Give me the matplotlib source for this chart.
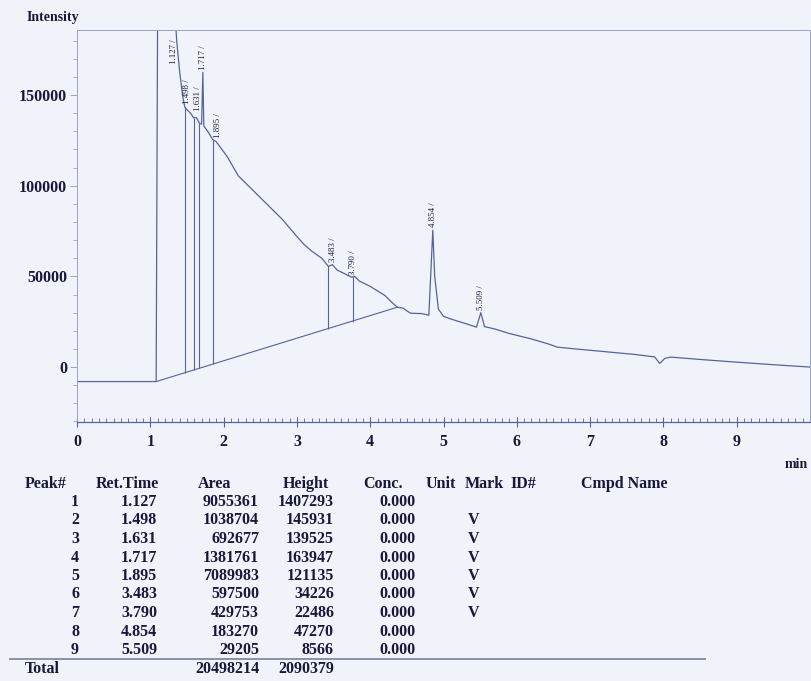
import matplotlib.pyplot as plt
from matplotlib.ticker import MultipleLocator

W, H = 811, 681

# chromatogram trace (min, intensity)
trace_t = [0.00, 1.08, 1.10, 1.33, 1.36, 1.40, 1.44, 1.47, 1.498, 1.55, 1.59,
           1.631, 1.67, 1.70, 1.717, 1.73, 1.80, 1.85, 1.895, 1.95, 2.05, 2.15,
           2.20, 2.40, 2.60, 2.80, 3.00, 3.10, 3.20, 3.34, 3.43, 3.483, 3.55,
           3.65, 3.75, 3.79, 3.85, 4.00, 4.20, 4.30, 4.37, 4.45, 4.50, 4.55,
           4.70, 4.80, 4.854, 4.88, 4.93, 5.00, 5.10, 5.30, 5.45, 5.509, 5.56,
           5.70, 5.90, 6.20, 6.45, 6.55, 6.80, 7.20, 7.60, 7.88, 7.95, 8.02,
           8.10, 8.50, 9.00, 9.50, 10.00]
trace_y = [-8000, -8000, 200000, 200000, 180000, 163000, 150000, 143500,
           142000, 140000, 137500, 137500, 134500, 134000, 162500, 133000,
           129000, 125500, 124500, 121500, 116000, 109000, 105500, 97500,
           89500, 81500, 72000, 67500, 64000, 60000, 55500, 56500, 53500,
           51500, 49500, 50000, 47500, 44500, 39500, 35500, 33000, 32500,
           31000, 29700, 29500, 28600, 75500, 50000, 32000, 28000, 26500,
           24000, 22000, 30000, 22300, 21000, 18500, 15500, 12500, 11000,
           10000, 8500, 7000, 5600, 2000, 4800, 5500, 4200, 2700, 1300, 0]

# integration baseline and drop lines
base_t = [1.08, 4.37]
base_y = [-8000, 33000]
drop_t = [1.47, 1.59, 1.67, 1.85, 3.42, 3.77]
drop_lo = [-3000, -1500, -500, 1700, 21000, 25000]
drop_hi = [143500, 137500, 134500, 125500, 55500, 49500]

# peak table
peak_no = [1, 2, 3, 4, 5, 6, 7, 8, 9]
ret_time = [1.127, 1.498, 1.631, 1.717, 1.895, 3.483, 3.790, 4.854, 5.509]
area = [9055361, 1038704, 692677, 1381761, 7089983, 597500, 429753, 183270, 29205]
height = [1407293, 145931, 139525, 163947, 121135, 34226, 22486, 47270, 8566]
conc = [0.000] * 9
mark = ["", "V", "V", "V", "V", "V", "V", "", ""]
total_area = 20498214
total_height = 2090379

# where the rotated peak labels sit
label_x = [1.33, 1.50, 1.65, 1.72, 1.92, 3.49, 3.77, 4.86, 5.51]
label_y = [167000, 145000, 141000, 164000, 126500, 58000, 51000, 77000, 31500]

BG = "#f1f3fa"
INK = "#17183a"
LINE = "#56639a"
FRAME = "#9aa2c2"
SERIF = ["Liberation Serif", "DejaVu Serif"]

plt.rcParams["font.family"] = SERIF

fig = plt.figure(figsize=(W / 100, H / 100), dpi=100, facecolor=BG)
ax = fig.add_axes([77 / W, 1 - 422 / H, 733 / W, 392 / H])
ax.set_facecolor(BG)

ax.plot(trace_t, trace_y, color=LINE, lw=0.9)
ax.plot(base_t, base_y, color=LINE, lw=0.8)
ax.vlines(drop_t, drop_lo, drop_hi, color=LINE, lw=0.8)

for x, y, rt in zip(label_x, label_y, ret_time):
    ax.text(x, y, f"{rt:.3f} /", rotation=90, ha="center", va="bottom",
            fontsize=6.3, color=INK)

ax.set_xlim(0, 10)
ax.set_ylim(-30300, 185900)

ax.xaxis.set_major_locator(MultipleLocator(1))
ax.xaxis.set_minor_locator(MultipleLocator(0.1))
ax.yaxis.set_major_locator(MultipleLocator(50000))
ax.yaxis.set_minor_locator(MultipleLocator(10000))
ax.set_xticks(range(0, 10))
ax.set_yticks([0, 50000, 100000, 150000])
ax.set_yticklabels(["0", "50000", "100000", "150000"])

ax.tick_params(axis="x", which="major", direction="inout", length=7,
               width=0.8, color=LINE, labelsize=11.5, labelcolor=INK, pad=5)
ax.tick_params(axis="x", which="minor", direction="in", length=3,
               width=0.6, color=LINE)
ax.tick_params(axis="y", which="major", direction="out", length=5,
               width=0.7, color=FRAME, labelsize=11.5, labelcolor=INK, pad=2)
ax.tick_params(axis="y", which="minor", direction="out", length=3,
               width=0.6, color=FRAME)
for lab in ax.get_xticklabels() + ax.get_yticklabels():
    lab.set_fontweight("bold")

for side in ["left", "top", "right"]:
    ax.spines[side].set_color(FRAME)
    ax.spines[side].set_linewidth(0.7)
ax.spines["bottom"].set_color(LINE)
ax.spines["bottom"].set_linewidth(0.9)


def put(x, y, s, ha="left", size=11.5):
    fig.text(x / W, 1 - y / H, s, ha=ha, va="center", fontsize=size,
             fontweight="bold", color=INK)


put(27, 18, "Intensity", size=10)
put(785, 465, "min", size=10)

# peak table
header_y = 484
headers = [(25, "Peak#"), (96, "Ret.Time"), (198, "Area"), (283, "Height"),
           (363, "Conc."), (426, "Unit"), (465, "Mark"), (510, "ID#"),
           (581, "Cmpd Name")]
for x, s in headers:
    put(x, header_y, s)

row_y0, row_dy = 502, 18.5
for i in range(len(peak_no)):
    y = row_y0 + i * row_dy
    put(79, y, str(peak_no[i]), ha="right")
    put(157, y, f"{ret_time[i]:.3f}", ha="right")
    put(259, y, str(area[i]), ha="right")
    put(334, y, str(height[i]), ha="right")
    put(415, y, f"{conc[i]:.3f}", ha="right")
    put(474, y, mark[i], ha="center")

sep_y = 1 - 659 / H
fig.add_artist(plt.Line2D([10 / W, 705 / W], [sep_y, sep_y], color="#8b90a8",
                          lw=1.4))
put(25, 669, "Total")
put(259, 669, str(total_area), ha="right")
put(334, 669, str(total_height), ha="right")

fig.savefig("out.png", dpi=100, facecolor=BG)
